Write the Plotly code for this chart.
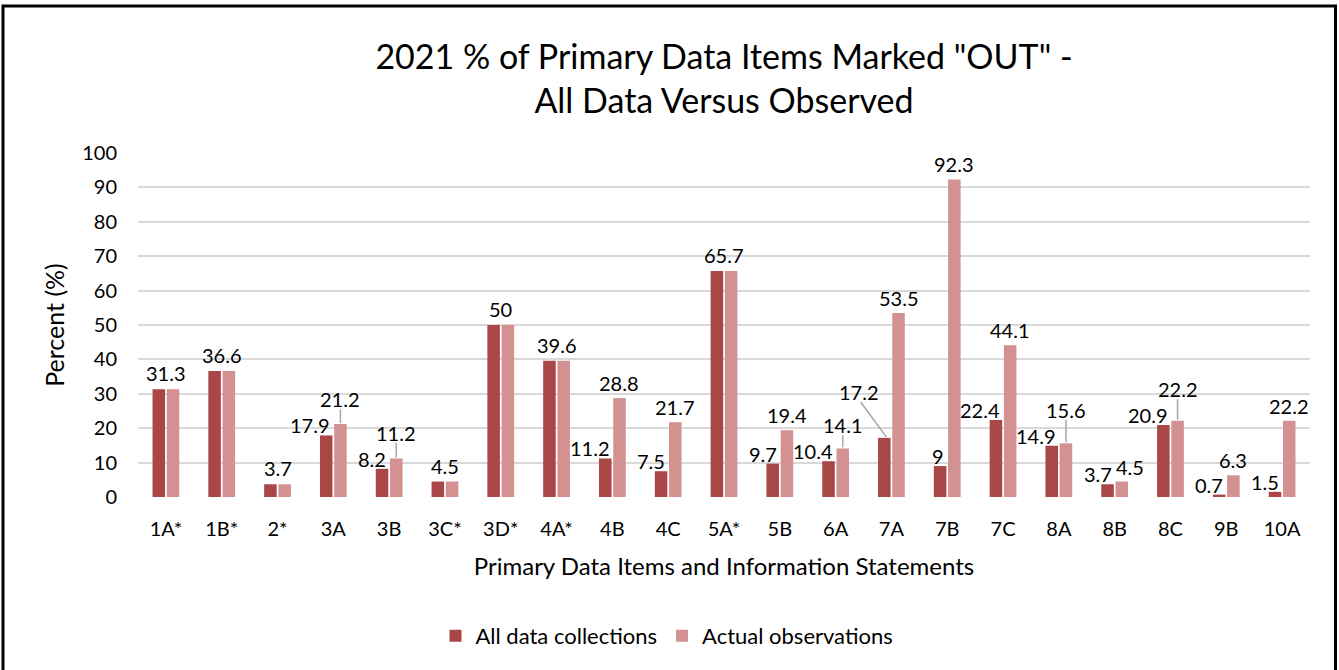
import plotly.graph_objects as go

categories = ["1A*", "1B*", "2*", "3A", "3B", "3C*", "3D*", "4A*", "4B", "4C", "5A*",
              "5B", "6A", "7A", "7B", "7C", "8A", "8B", "8C", "9B", "10A"]
all_data = [31.3, 36.6, 3.7, 17.9, 8.2, 4.5, 50, 39.6, 11.2, 7.5, 65.7,
            9.7, 10.4, 17.2, 9, 22.4, 14.9, 3.7, 20.9, 0.7, 1.5]
actual_obs = [31.3, 36.6, 3.7, 21.2, 11.2, 4.5, 50, 39.6, 28.8, 21.7, 65.7,
              19.4, 14.1, 53.5, 92.3, 44.1, 15.6, 4.5, 22.2, 6.3, 22.2]

DARK = "#A94646"
LIGHT = "#D39191"
FONT = "Lato"
W, H = 1339, 670
ML, MR, MT, MB = 138, 29, 153, 173
plot_h = H - MT - MB
plot_w = W - ML - MR
px_per_unit = plot_h / 100.0
cat_px = plot_w / len(categories)
BAR_OFF = 7.1
HALF_W = 6.25
LBL = 20

x_idx = list(range(len(categories)))

fig = go.Figure()
fig.add_trace(go.Bar(x=x_idx, y=all_data, name="All data collections",
                     marker=dict(color=DARK, line=dict(width=0))))
fig.add_trace(go.Bar(x=x_idx, y=actual_obs, name="Actual observations",
                     marker=dict(color=LIGHT, line=dict(width=0))))


def fmt(v):
    return f"{v:g}"


def text_w(s):
    return sum(4.8 if ch == "." else 11.6 for ch in s)


LEADER = dict(color="#A6A6A6", width=1.5)
annotations = []
shapes = []
light_boxes = {}
for i, (a, b) in enumerate(zip(all_data, actual_obs)):
    cx = i * cat_px
    if a == b:
        annotations.append(dict(x=i, y=a, xref="x", yref="y", text=fmt(a), showarrow=False,
                                xanchor="center", yanchor="middle", yshift=16,
                                font=dict(size=LBL, color="#000000", family=FONT)))
        w = text_w(fmt(a))
        light_boxes[i] = (cx - w / 2, cx + w / 2, a * px_per_unit + 16)
        continue
    # dark label, right-aligned to the dark bar's right edge
    dark_right = -BAR_OFF + HALF_W
    dw = text_w(fmt(a))
    dark_c = a * px_per_unit + 10
    prev = light_boxes.get(i - 1)
    d_left = cx + dark_right - dw
    raised_dark = False
    if prev and prev[1] > d_left and abs(prev[2] - dark_c) < 22:
        dark_c = prev[2] + 33
        raised_dark = True
    lbl_x = dark_right - (10 if raised_dark else 0)
    annotations.append(dict(x=i, y=a, xref="x", yref="y", text=fmt(a), showarrow=False,
                            xanchor="right", yanchor="middle", xshift=lbl_x,
                            yshift=dark_c - a * px_per_unit,
                            font=dict(size=LBL, color="#000000", family=FONT)))
    if raised_dark:
        shapes.append(dict(type="line", xref="x", yref="y",
                           xsizemode="pixel", ysizemode="pixel",
                           xanchor=i, yanchor=a,
                           x0=-BAR_OFF + 2, x1=lbl_x - dw / 2,
                           y0=1, y1=dark_c - a * px_per_unit - 10,
                           line=LEADER))
    # light label, centred on the light bar
    lw = text_w(fmt(b))
    light_left = BAR_OFF - lw / 2
    light_c = b * px_per_unit + 15
    xs = BAR_OFF
    overlap = dark_right - light_left
    if abs(light_c - dark_c) < 20 and overlap > 0:
        if overlap <= 8:
            xs = BAR_OFF + overlap + 2
        else:
            new_c = max(light_c, dark_c + 26)
            if new_c - light_c > 6:
                shapes.append(dict(type="line", xref="x", yref="y",
                                   xsizemode="pixel", ysizemode="pixel",
                                   xanchor=i, yanchor=b,
                                   x0=BAR_OFF, x1=BAR_OFF,
                                   y0=1, y1=new_c - b * px_per_unit - 10,
                                   line=LEADER))
            light_c = new_c
    annotations.append(dict(x=i, y=b, xref="x", yref="y", text=fmt(b), showarrow=False,
                            xanchor="center", yanchor="middle", xshift=xs,
                            yshift=light_c - b * px_per_unit,
                            font=dict(size=LBL, color="#000000", family=FONT)))
    light_boxes[i] = (cx + xs - lw / 2, cx + xs + lw / 2, light_c)


def px2paper_x(px):
    return (px - ML) / plot_w


def px2paper_y(py):
    return (H - MB - py) / plot_h


# outer frame of the chart
shapes.append(dict(type="rect", xref="paper", yref="paper",
                   x0=px2paper_x(3), x1=px2paper_x(1335.5),
                   y0=px2paper_y(675), y1=px2paper_y(6),
                   line=dict(color="#000000", width=3), layer="above"))

fig.update_layout(
    width=W, height=H,
    margin=dict(l=ML, r=MR, t=MT, b=MB, autoexpand=False),
    paper_bgcolor="white", plot_bgcolor="white",
    barmode="group", bargap=0.49, bargroupgap=0.12,
    title=dict(text="2021 % of Primary Data Items Marked \"OUT\" -<br>All Data Versus Observed",
               x=0.5, xref="paper", xanchor="center", y=1 - 68.5 / H, yanchor="middle",
               font=dict(family=FONT, size=34, color="#000000")),
    font=dict(family=FONT, size=20, color="#000000"),
    xaxis=dict(range=[-0.5, len(categories) - 0.5], tickmode="array", tickvals=x_idx,
               ticktext=categories, showgrid=False, zeroline=False, showline=False,
               ticks="", ticklabelstandoff=18,
               tickfont=dict(size=20, color="#000000", family=FONT),
               title=dict(text="Primary Data Items and Information Statements",
                          font=dict(size=24, color="#000000", family=FONT), standoff=19)),
    yaxis=dict(range=[0, 100], dtick=10, showgrid=True, gridcolor="#D9D9D9", gridwidth=2,
               zeroline=False, showline=False, ticks="", ticklabelstandoff=20,
               tickfont=dict(size=20, color="#000000", family=FONT),
               title=dict(text="Percent (%)", font=dict(size=25, color="#000000", family=FONT),
                          standoff=10)),
    legend=dict(orientation="h", x=px2paper_x(667), xanchor="center", y=px2paper_y(636),
                yanchor="middle", font=dict(size=22, color="#000000", family=FONT),
                traceorder="normal"),
    annotations=annotations,
    shapes=shapes,
)

fig.write_html("out.html", config={"displayModeBar": False},
               post_script="document.body.style.margin='0px';")
